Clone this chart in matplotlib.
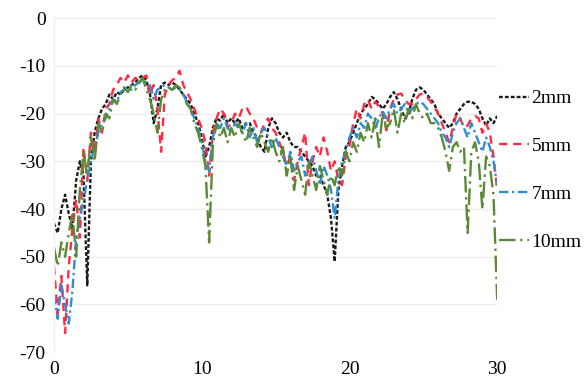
import numpy as np
import matplotlib.pyplot as plt

# frequency axis (0 to 30 in 0.25 steps)
freq = np.arange(0, 30.01, 0.25)

s11_2mm = [-43, -45, -40, -37, -41, -44, -34, -30, -33, -56,
           -30, -24, -21, -19, -18, -16, -17, -15.5, -16, -15,
           -14.5, -14, -13.5, -12.5, -12, -13, -16, -22, -19, -14,
           -13.5, -14, -13.5, -14, -15, -16, -17, -18, -20, -22,
           -25, -29, -27, -23, -21, -21.5, -20, -22, -21, -22,
           -21, -23, -22, -22, -24, -25, -27, -28, -23, -21,
           -22, -24, -25, -24, -26, -27, -27, -28, -29, -30,
           -31, -33, -33, -35, -37, -42, -51, -36, -31, -27,
           -26, -24, -22, -20, -19, -18, -16.5, -17, -18, -19,
           -18, -16.5, -15.5, -17, -19, -21, -20, -17, -15, -14.5,
           -15, -16, -17, -18, -20, -21, -22, -23, -22, -20,
           -19, -18, -17.5, -17.5, -18, -19, -21, -22.5, -21, -22,
           -20.5]

s11_5mm = [-52, -62, -54, -66, -52, -44, -38, -46, -27, -34,
           -24, -28, -21, -24, -19, -18, -15, -14, -12.5, -13.5,
           -12, -13.5, -12.5, -13, -12.5, -12, -16, -14, -19, -28,
           -16, -14, -13, -12.5, -11, -14, -15.5, -17, -19, -21,
           -23, -26, -33, -24, -21, -19, -20, -23, -22, -20,
           -21, -19, -18.5, -20, -21, -23, -24, -22, -21, -23,
           -24, -26, -28, -31, -29, -34, -30, -27, -24, -35,
           -30, -27, -29, -25, -28, -32, -30, -34, -35, -29,
           -27, -22, -19, -21, -18, -17, -19, -17.5, -18.5, -20,
           -23.5, -19, -17, -16, -15.8, -17, -18, -18, -17, -16,
           -15.8, -16.5, -17.5, -18.6, -20, -22, -24, -26, -23, -20,
           -21, -23, -22.5, -21, -20.5, -21, -24, -22, -24, -29,
           -36]

s11_7mm = [-58, -63, -56, -60, -64, -57, -46, -42, -38, -34,
           -30, -27, -24, -22, -21, -19, -17, -17.5, -15.5, -15,
           -14.5, -15, -14, -13.5, -13, -13.5, -14, -17, -15, -14.5,
           -14, -14.5, -15, -14.5, -15, -16, -17.5, -19, -21, -23,
           -26, -30, -32, -25, -22, -23, -21, -23, -24, -22,
           -23, -24, -22, -25, -23, -26, -24, -23, -25, -27,
           -25, -27, -29, -31, -28, -32, -30, -29, -33, -31,
           -29, -32, -35, -31, -33, -36, -42, -34, -30, -28,
           -25, -23, -25, -22, -23, -20, -21, -23, -21, -19.5,
           -21, -19, -18, -20, -19, -18, -20, -19, -18, -17.5,
           -18, -19, -20, -21, -22, -24, -25, -27, -24, -22,
           -21, -23, -25, -22, -24, -26, -28, -25, -27, -30,
           -35]

s11_10mm = [-48, -52, -47, -50, -45, -41, -50, -36, -28, -33,
            -25, -30, -22, -24, -20, -21, -17, -18, -16, -14.5,
            -15.5, -14, -15, -13.5, -12.5, -15, -17, -20, -24, -17,
            -15, -14.5, -15, -14, -14.5, -16, -18, -19, -22, -24,
            -27, -31, -47, -27, -22, -25, -23, -26, -23, -25,
            -22, -24, -26, -23, -25, -27, -24, -26, -28, -25,
            -28, -30, -27, -33, -29, -36, -31, -34, -37, -30,
            -33, -36, -31, -34, -37, -33, -35, -31, -33, -28,
            -30, -26, -28, -24, -26, -22, -25, -21, -27, -20,
            -23, -22, -19, -24, -20, -22, -19, -21, -18, -20,
            -21, -20, -22, -22, -23, -25, -28, -32, -27, -26,
            -28, -27, -45, -28, -26, -30, -40, -29, -31, -37,
            -59]

labels = ['2mm', '5mm', '7mm', '10mm']
colors = ['#1a1a1a', '#ff2a45', '#2f8fd0', '#5a8a35']
styles = [(0, (1.6, 0.9)), (0, (3.5, 2.5)), (0, (4, 1.5, 1, 1.5)), (0, (7, 2, 1, 2))]

plt.rcParams['font.family'] = 'Liberation Serif'
plt.rcParams['axes.unicode_minus'] = False

fig = plt.figure(figsize=(5.87, 3.87), dpi=100)
ax = fig.add_axes([0.092, 0.090, 0.755, 0.863])

for y, lab, c, ls in zip([s11_2mm, s11_5mm, s11_7mm, s11_10mm], labels, colors, styles):
    ax.plot(freq, y, color=c, linestyle=ls, linewidth=1.7, label=lab)

ax.set_xlim(0, 30)
ax.set_ylim(-70, 0)
ax.set_xticks([0, 10, 20, 30])
ax.set_yticks(range(-70, 1, 10))
ax.grid(axis='y', color='#ededed', linewidth=1)
ax.set_axisbelow(True)
for side in ['top', 'right', 'bottom']:
    ax.spines[side].set_visible(False)
ax.spines['left'].set_color('#ededed')
ax.tick_params(length=0, labelsize=14, pad=6)

ax.legend(loc='center left', bbox_to_anchor=(1.005, 0.545), frameon=False,
          fontsize=14, handlelength=1.5, handletextpad=0.15,
          labelspacing=1.55, borderpad=0, borderaxespad=0)

fig.savefig('out.png', dpi=100)
